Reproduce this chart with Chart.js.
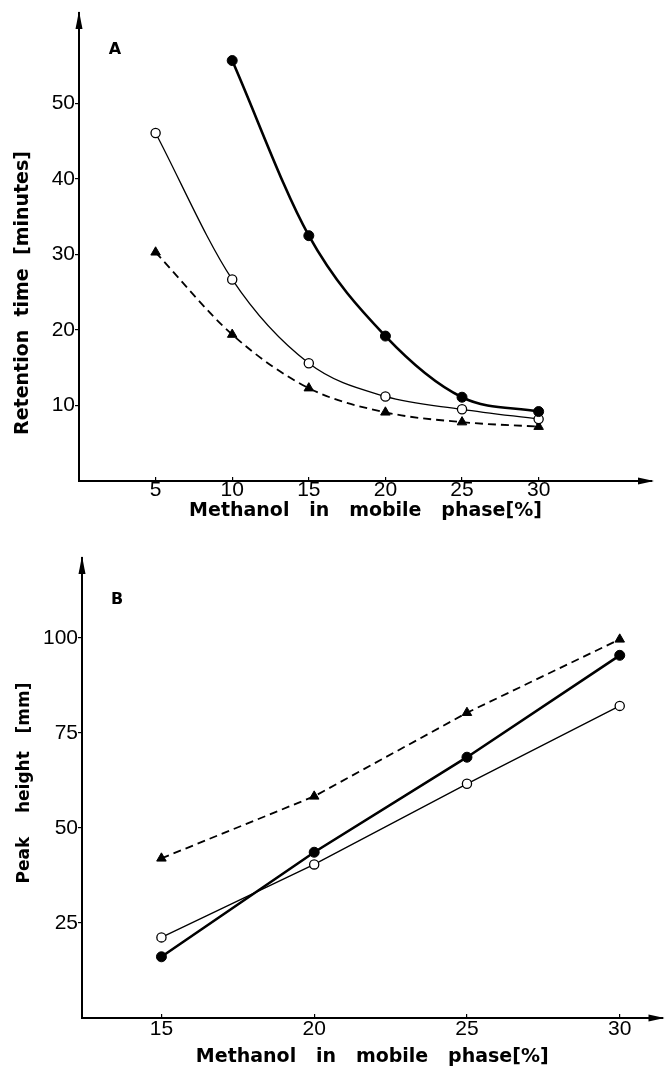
<!DOCTYPE html>
<html>
<head>
<meta charset="utf-8">
<script src="https://cdn.jsdelivr.net/npm/chart.js@4.4.1/dist/chart.umd.min.js"></script>
<style>
  html, body { margin: 0; padding: 0; background: #fff; }
  #panelA { position: absolute; left: 0; top: 0; width: 669px; height: 540px; }
  #panelB { position: absolute; left: 0; top: 540px; width: 669px; height: 528px; }
</style>
</head>
<body>
<div id="panelA"><canvas id="chartA"></canvas></div>
<div id="panelB"><canvas id="chartB"></canvas></div>
<script>
// --- panel A: retention time vs methanol ---
const methanolA = [5, 10, 15, 20, 25, 30];
const retentionFilled = [null, 55.7, 32.5, 19.2, 11.1, 9.2];
const retentionOpen = [46.1, 26.7, 15.6, 11.2, 9.5, 8.2];
const retentionTriangle = [30.3, 19.4, 12.3, 9.1, 7.8, 7.2];
const xTicksA = [5, 10, 15, 20, 25, 30];
const yTicksA = [10, 20, 30, 40, 50];

// --- panel B: peak height vs methanol ---
const methanolB = [15, 20, 25, 30];
const heightFilled = [16.1, 43.6, 68.6, 95.4];
const heightOpen = [21.2, 40.4, 61.6, 82.1];
const heightTriangle = [42, 58.3, 80.3, 99.6];
const xTicksB = [15, 20, 25, 30];
const yTicksB = [25, 50, 75, 100];

const xTitle = "Methanol   in   mobile   phase[%]";
const tickFont = { family: "Liberation Sans", size: 21 };
const titleFont = { family: "DejaVu Sans", size: 19, weight: "bold" };

function toPoints(xs, ys) {
  return xs.map((x, i) => ({ x: x, y: ys[i] })).filter((p) => p.y !== null);
}

const styles = {
  filled: { borderColor: "#000", borderWidth: 2.6, pointStyle: "circle", pointRadius: 5,
    pointBackgroundColor: "#000", pointBorderColor: "#000", pointBorderWidth: 1 },
  open: { borderColor: "#000", borderWidth: 1.3, pointStyle: "circle", pointRadius: 4.6,
    pointBackgroundColor: "#fff", pointBorderColor: "#000", pointBorderWidth: 1.3 },
  triangle: { borderColor: "#000", borderWidth: 1.8, borderDash: [8, 5], pointStyle: "triangle",
    pointRadius: 5.5, pointBackgroundColor: "#000", pointBorderColor: "#000", pointBorderWidth: 1 }
};

// arrows on the axes, panel letter and rotated y label
const paperAxes = {
  id: "paperAxes",
  afterDraw(chart, args, opts) {
    const { ctx, chartArea } = chart;
    const { left, right, top, bottom } = chartArea;
    ctx.save();
    ctx.fillStyle = "#000";
    ctx.beginPath();
    ctx.moveTo(left, top - 2);
    ctx.lineTo(left - 3.5, top + 16);
    ctx.lineTo(left + 3.5, top + 16);
    ctx.closePath();
    ctx.fill();
    ctx.beginPath();
    ctx.moveTo(right + 2, bottom);
    ctx.lineTo(right - 14, bottom - 3.5);
    ctx.lineTo(right - 14, bottom + 3.5);
    ctx.closePath();
    ctx.fill();

    ctx.font = "bold 16px 'DejaVu Sans'";
    ctx.textAlign = "center";
    ctx.textBaseline = "middle";
    ctx.fillText(opts.letter, opts.letterX, opts.letterY);

    ctx.translate(opts.labelX, opts.labelY);
    ctx.rotate(-Math.PI / 2);
    ctx.font = "bold " + opts.labelSize + "px 'DejaVu Sans'";
    ctx.fillText(opts.label, 0, 0);
    ctx.restore();
  }
};

function makeChart(canvasId, cfg) {
  return new Chart(document.getElementById(canvasId), {
    type: "line",
    data: {
      datasets: [
        { label: "filled", data: cfg.filled, ...styles.filled, cubicInterpolationMode: cfg.curve },
        { label: "open", data: cfg.open, ...styles.open, cubicInterpolationMode: cfg.curve },
        { label: "triangle", data: cfg.triangle, ...styles.triangle, cubicInterpolationMode: cfg.curve }
      ]
    },
    options: {
      responsive: true,
      maintainAspectRatio: false,
      animation: false,
      events: [],
      tension: cfg.curve === "monotone" ? 0.4 : 0,
      layout: { padding: cfg.padding },
      plugins: {
        legend: { display: false },
        tooltip: { enabled: false },
        paperAxes: cfg.paper
      },
      scales: {
        x: {
          type: "linear",
          min: cfg.xMin,
          max: cfg.xMax,
          afterBuildTicks: (scale) => { scale.ticks = cfg.xTicks.map((v) => ({ value: v })); },
          afterFit: (scale) => { scale.height = cfg.xHeight; },
          grid: { display: true, drawOnChartArea: false, drawTicks: true, tickLength: -4, color: "#000", lineWidth: 1.2 },
          border: { display: true, color: "#000", width: 2 },
          ticks: { font: tickFont, color: "#000", padding: cfg.xTickPad, maxRotation: 0, autoSkip: false },
          title: { display: true, text: xTitle, font: titleFont, color: "#000", padding: { top: 0, bottom: cfg.xTitlePad } }
        },
        y: {
          type: "linear",
          min: 0,
          max: cfg.yMax,
          afterBuildTicks: (scale) => { scale.ticks = cfg.yTicks.map((v) => ({ value: v })); },
          afterFit: (scale) => { scale.width = cfg.yWidth; },
          grid: { display: true, drawOnChartArea: false, drawTicks: true, tickLength: 4, color: "#000", lineWidth: 1.2 },
          border: { display: true, color: "#000", width: 2 },
          ticks: { font: tickFont, color: "#000", padding: 0 }
        }
      }
    },
    plugins: [paperAxes]
  });
}

makeChart("chartA", {
  filled: toPoints(methanolA, retentionFilled),
  open: toPoints(methanolA, retentionOpen),
  triangle: toPoints(methanolA, retentionTriangle),
  curve: "monotone",
  xMin: 0, xMax: 37.4, yMax: 62,
  xTicks: xTicksA, yTicks: yTicksA,
  padding: { left: 0, top: 13, right: 17, bottom: 0 },
  xHeight: 59, yWidth: 79, xTickPad: 1, xTitlePad: 18,
  paper: { letter: "A", letterX: 115, letterY: 50,
    label: "Retention  time  [minutes]", labelX: 23, labelY: 293, labelSize: 19 }
});

makeChart("chartB", {
  filled: toPoints(methanolB, heightFilled),
  open: toPoints(methanolB, heightOpen),
  triangle: toPoints(methanolB, heightTriangle),
  curve: "default",
  xMin: 12.4, xMax: 31.4, yMax: 121,
  xTicks: xTicksB, yTicks: yTicksB,
  padding: { left: 0, top: 18, right: 1, bottom: 0 },
  xHeight: 50, yWidth: 82, xTickPad: 3, xTitlePad: 0,
  paper: { letter: "B", letterX: 117, letterY: 60,
    label: "Peak    height   [mm]", labelX: 25, labelY: 243, labelSize: 17 }
});
</script>
</body>
</html>
